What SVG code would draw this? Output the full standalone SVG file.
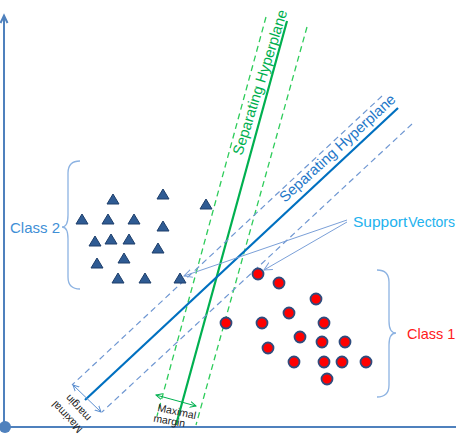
<svg xmlns="http://www.w3.org/2000/svg" width="456" height="435" viewBox="0 0 456 435">
<style>
.axis{stroke:#4F81BD;stroke-width:2;fill:none}
.gs{stroke:#00B050;stroke-width:2.2;fill:none}
.gd{stroke:#2ECC5A;stroke-width:1.3;fill:none;stroke-dasharray:6,4}
.bs{stroke:#0070C0;stroke-width:2.2;fill:none}
.bd{stroke:#6F97D2;stroke-width:1.2;fill:none;stroke-dasharray:6,4}
.brace{stroke:#8DB3E2;stroke-width:1.3;fill:none}
.tri{fill:#2F5B93;stroke:#1E3F6B;stroke-width:1}
.dot{fill:#FF0000;stroke:#2F4C7E;stroke-width:1.8}
.sv{stroke:#7BA0D8;stroke-width:1;fill:none}
text{font-family:"Liberation Sans",Arial,sans-serif}
</style>
<defs>
<marker id="ah" markerWidth="10" markerHeight="10" refX="8" refY="5" orient="auto" markerUnits="userSpaceOnUse">
<path d="M0,1 L8,5 L0,9" fill="none" stroke="#7BA0D8" stroke-width="1"/>
</marker>
<marker id="mb" markerWidth="8" markerHeight="8" refX="6" refY="4" orient="auto-start-reverse" markerUnits="userSpaceOnUse">
<path d="M0,1 L6,4 L0,7" fill="none" stroke="#5B8FD0" stroke-width="1"/>
</marker>
<marker id="mg" markerWidth="8" markerHeight="8" refX="6" refY="4" orient="auto-start-reverse" markerUnits="userSpaceOnUse">
<path d="M0,1 L6,4 L0,7" fill="none" stroke="#00B050" stroke-width="1"/>
</marker>
</defs>

<g id="axes">
<line class="axis" x1="4" y1="16" x2="4" y2="427"/>
<path class="axis" d="M0.5,23 L4,15.5 L7.5,23"/>
<line class="axis" x1="4" y1="427" x2="456" y2="427"/>
<circle cx="5" cy="427" r="6" fill="#4F81BD"/>
</g>

<g id="connectors">
<line class="gd" x1="266" y1="17" x2="157" y2="416"/>
<line class="gd" x1="307" y1="27" x2="196" y2="425"/>
<line class="gs" x1="287" y1="21" x2="176" y2="425"/>
<line class="bd" x1="382" y1="96" x2="72" y2="385"/>
<line class="bd" x1="412" y1="124" x2="102" y2="412"/>
<line class="bs" x1="398" y1="108" x2="85" y2="400"/>
<line class="sv" x1="347" y1="220" x2="184" y2="276" marker-end="url(#ah)"/>
<line class="sv" x1="347" y1="222" x2="264" y2="270" marker-end="url(#ah)"/>
<line x1="73" y1="385" x2="101" y2="412" stroke="#5B8FD0" stroke-width="1" marker-start="url(#mb)" marker-end="url(#mb)"/>
<line x1="156" y1="395" x2="196" y2="406" stroke="#00B050" stroke-width="1" marker-start="url(#mg)" marker-end="url(#mg)"/>
</g>

<g id="hyperplane-green">
<text transform="translate(242,156) rotate(-72.5)" font-size="14.8" fill="#00B050">Separating Hyperplane</text>
</g>
<g id="hyperplane-blue">
<text transform="translate(285,203) rotate(-42.5)" font-size="14.8" fill="#1F78C8">Separating Hyperplane</text>
</g>

<g id="margin-blue">
<text transform="translate(69.6,414.6) rotate(-133)" font-size="10.5" fill="#222" text-anchor="middle">Maximal</text>
<text transform="translate(80.6,405.6) rotate(-133)" font-size="10.5" fill="#222" text-anchor="middle">margin</text>
</g>
<g id="margin-green">
<text transform="translate(157,411) rotate(12)" font-size="10.5" fill="#222">Maximal</text>
<text transform="translate(153,421.5) rotate(10)" font-size="10.5" fill="#222">margin</text>
</g>

<g id="class2">
<path class="brace" d="M80,161 Q68,161 68,173 L68,215 Q68,227 62,227 Q68,227 68,239 L68,277 Q68,289 80,289"/>
<text x="10" y="233" font-size="15" fill="#3F8FD6">Class 2</text>
<g id="triangles">
<path class="tri" d="M113,194 l6,10 h-12 z"/>
<path class="tri" d="M163,189 l6,10 h-12 z"/>
<path class="tri" d="M206,199 l6,10 h-12 z"/>
<path class="tri" d="M82,214 l6,10 h-12 z"/>
<path class="tri" d="M108,214 l6,10 h-12 z"/>
<path class="tri" d="M134,214 l6,10 h-12 z"/>
<path class="tri" d="M163,221 l6,10 h-12 z"/>
<path class="tri" d="M95,236 l6,10 h-12 z"/>
<path class="tri" d="M111,234 l6,10 h-12 z"/>
<path class="tri" d="M129,234 l6,10 h-12 z"/>
<path class="tri" d="M158,243 l6,10 h-12 z"/>
<path class="tri" d="M97,258 l6,10 h-12 z"/>
<path class="tri" d="M124,253 l6,10 h-12 z"/>
<path class="tri" d="M118,273 l6,10 h-12 z"/>
<path class="tri" d="M145,273 l6,10 h-12 z"/>
<path class="tri" d="M180,273 l6,10 h-12 z"/>
</g>
</g>

<g id="class1">
<path class="brace" d="M377,270 Q389,270 389,282 L389,321 Q389,333 396,333 Q389,333 389,345 L389,385 Q389,397 377,397"/>
<text x="407" y="339" font-size="14.5" fill="#FF1A1A">Class 1</text>
<g id="circles">
<circle class="dot" cx="258" cy="274" r="5.5"/>
<circle class="dot" cx="279" cy="283" r="5.5"/>
<circle class="dot" cx="316" cy="299" r="5.5"/>
<circle class="dot" cx="289" cy="313" r="5.5"/>
<circle class="dot" cx="226" cy="323" r="5.5"/>
<circle class="dot" cx="262" cy="323" r="5.5"/>
<circle class="dot" cx="324" cy="323" r="5.5"/>
<circle class="dot" cx="300" cy="337" r="5.5"/>
<circle class="dot" cx="322" cy="342" r="5.5"/>
<circle class="dot" cx="345" cy="342" r="5.5"/>
<circle class="dot" cx="268" cy="348" r="5.5"/>
<circle class="dot" cx="294" cy="362" r="5.5"/>
<circle class="dot" cx="324" cy="362" r="5.5"/>
<circle class="dot" cx="342" cy="362" r="5.5"/>
<circle class="dot" cx="366" cy="362" r="5.5"/>
<circle class="dot" cx="327" cy="379" r="5.5"/>
</g>
</g>

<g id="support-vectors">
<text x="353" y="227" fill="#22B2EE"><tspan font-size="15.5">Support</tspan><tspan font-size="14" dx="1">Vectors</tspan></text>
</g>
</svg>
